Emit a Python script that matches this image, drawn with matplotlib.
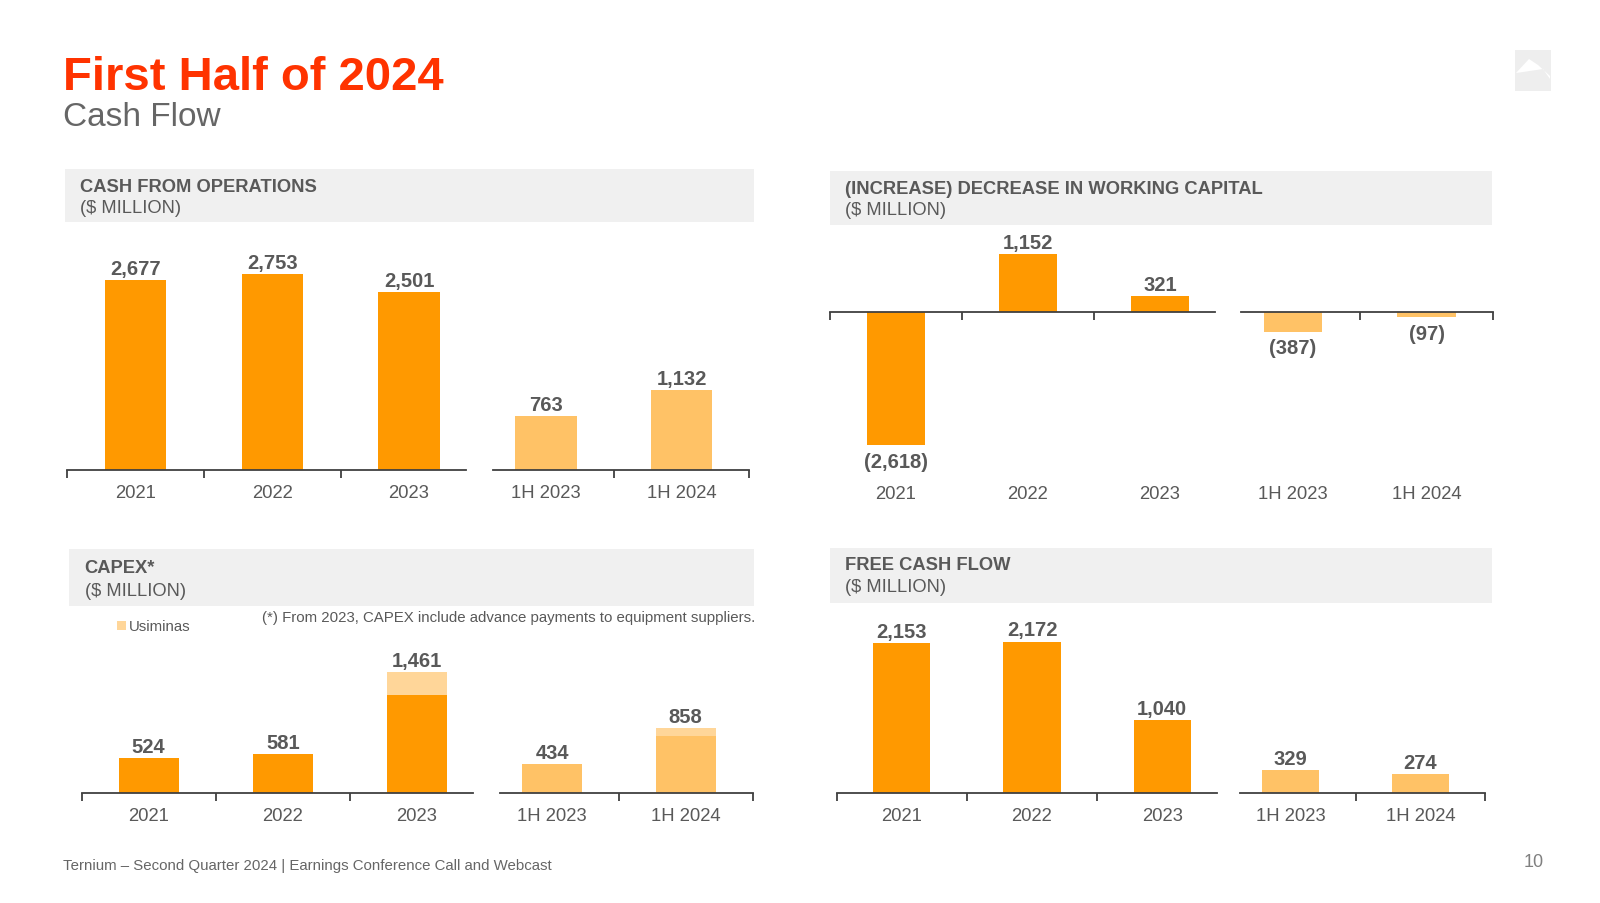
import matplotlib
matplotlib.use('Agg')
import matplotlib.pyplot as plt
from matplotlib.patches import Rectangle, Polygon
import matplotlib.transforms as mtrans

plt.rcParams['font.family'] = ['Liberation Sans', 'DejaVu Sans']

W, H = 1600, 904

# ---------------- data ----------------
years = ['2021', '2022', '2023']
halves = ['1H 2023', '1H 2024']

cfo_years = [2677, 2753, 2501]
cfo_halves = [763, 1132]

wc_years = [-2618, 1152, 321]
wc_halves = [-387, -97]

capex_years = [524, 581, 1461]
capex_halves = [434, 858]
usiminas_years = [0, 0, 345]
usiminas_halves = [0, 110]

fcf_years = [2153, 2172, 1040]
fcf_halves = [329, 274]

# ---------------- style ----------------
C_DARK = '#FF9900'
C_LIGHT = '#FFC266'
C_USI = '#FFD699'
C_TEXT = '#595959'
C_AXIS = '#404040'
C_BOX = '#F0F0F0'

fig = plt.figure(figsize=(16, 9.04), dpi=100)
fig.patch.set_facecolor('white')


def fx(x):
    return x / W


def fy(y):
    return 1 - y / H


def header(x0, x1, y0, y1, title, tx, ty1, ty2):
    fig.add_artist(Rectangle((fx(x0), fy(y1)), (x1 - x0) / W, (y1 - y0) / H,
                             transform=fig.transFigure, facecolor=C_BOX,
                             edgecolor='none', zorder=0))
    fig.text(fx(tx), fy(ty1), title, fontsize=13.2, fontweight='bold',
             color=C_TEXT, ha='left', va='center')
    fig.text(fx(tx), fy(ty2), '($ MILLION)', fontsize=13.2,
             color=C_TEXT, ha='left', va='center')


def make_axes(x_left, x_right, xlim, ybase, scale, ymin, ymax, ticks):
    ax = fig.add_axes([fx(x_left), fy(ybase - ymin * scale),
                       (x_right - x_left) / W, (ymax - ymin) * scale / H])
    ax.set_xlim(*xlim)
    ax.set_ylim(ymin, ymax)
    ax.patch.set_visible(False)
    for s in ['top', 'right', 'left']:
        ax.spines[s].set_visible(False)
    ax.spines['bottom'].set_position(('data', 0))
    ax.spines['bottom'].set_color(C_AXIS)
    ax.spines['bottom'].set_linewidth(1.3)
    ax.spines['bottom'].set_zorder(5)
    ax.set_yticks([])
    ax.set_xticks(ticks)
    ax.tick_params(axis='x', direction='out', length=6, width=1.3,
                   color=C_AXIS, labelbottom=False)
    return ax


def draw_group(ax, labels, main, color, label_y, extra=None, extra_color=None,
               width=0.45, neg_off=16):
    xs = list(range(len(main)))
    ax.bar(xs, main, width=width, color=color, zorder=2)
    tops = list(main)
    if extra is not None:
        ax.bar(xs, extra, bottom=main, width=width, color=extra_color, zorder=2)
        tops = [m + e for m, e in zip(main, extra)]
    for i, (v, t) in enumerate(zip(main, tops)):
        if v >= 0:
            ax.annotate(f'{v:,}', (i, t), xytext=(0, 4.5), textcoords='offset points',
                        ha='center', va='baseline', fontsize=14.5,
                        fontweight='bold', color=C_TEXT, annotation_clip=False)
        else:
            ax.annotate(f'({abs(v):,})', (i, v), xytext=(0, -neg_off * 0.72),
                        textcoords='offset points', ha='center', va='center',
                        fontsize=14.5, fontweight='bold', color=C_TEXT,
                        annotation_clip=False)
    tr = mtrans.blended_transform_factory(ax.transData, fig.transFigure)
    for i, lab in enumerate(labels):
        ax.text(i, fy(label_y), lab, transform=tr, ha='center', va='center',
                fontsize=13.3, color=C_TEXT)


def panel(ann_left, ann_sp, half_c0, half_sp, ybase, scale, ymin, ymax,
          label_y, y_vals, h_vals, y_extra=None, h_extra=None, width=0.45):
    ax1 = make_axes(ann_left, ann_left + 2.92 * ann_sp, (-0.5, 2.42), ybase,
                    scale, ymin, ymax, [-0.5, 0.5, 1.5])
    draw_group(ax1, years, y_vals, C_DARK, label_y, y_extra, C_USI, width)
    ax2 = make_axes(half_c0 - 0.39 * half_sp, half_c0 + 1.5 * half_sp,
                    (-0.39, 1.5), ybase, scale, ymin, ymax, [0.5, 1.5])
    draw_group(ax2, halves, h_vals, C_LIGHT, label_y, h_extra, C_USI, width)
    return ax1, ax2


# ---------------- titles ----------------
fig.text(fx(63), fy(89.5), 'First Half of 2024', fontsize=34, fontweight='bold',
         color='#FF3300', ha='left', va='baseline')
fig.text(fx(63), fy(126.5), 'Cash Flow', fontsize=24, color='#666666',
         ha='left', va='baseline')

# logo placeholder
fig.add_artist(Rectangle((fx(1515), fy(92)), 36 / W, 41 / H,
                         transform=fig.transFigure, facecolor='#EEEEEE',
                         edgecolor='none'))
logo_pts = [(1516, 74), (1529, 60), (1538, 66), (1550, 77), (1550, 80),
            (1543, 70), (1523, 73)]
fig.add_artist(Polygon([(fx(x), fy(y)) for x, y in logo_pts], closed=True,
                       transform=fig.transFigure, facecolor='white',
                       edgecolor='none'))

# ---------------- panels ----------------
header(65, 754, 169.5, 223, 'CASH FROM OPERATIONS', 79.6, 187.2, 208.6)
panel(67.3, 136.7, 546, 135.6, 471.4, 0.0712, 0, 3300, 493.9,
      cfo_years, cfo_halves)

header(829.6, 1491.8, 171.5, 225.5, '(INCREASE) DECREASE IN WORKING CAPITAL',
       845, 189.2, 210.6)
panel(829.6, 132.1, 1292.9, 133.6, 313.3, 0.0507, -3400, 1700, 494.9,
      wc_years, wc_halves, width=0.44)

header(69.4, 754.1, 550, 607, 'CAPEX*', 84.7, 568.5, 591)
panel(81.6, 134.2, 552, 133.7, 794, 0.067, 0, 2200, 816.3,
      capex_years, capex_halves, usiminas_years, usiminas_halves)

header(829.6, 1491.8, 549, 604, 'FREE CASH FLOW', 845, 565.5, 588)
panel(836.7, 130.2, 1290.8, 129.6, 793.9, 0.0697, 0, 2700, 816.3,
      fcf_years, fcf_halves, width=0.44)

# CAPEX legend and note
fig.add_artist(Rectangle((fx(117.3), fy(630.5)), 8.2 / W, 8.2 / H,
                         transform=fig.transFigure, facecolor=C_USI,
                         edgecolor='none'))
fig.text(fx(128.5), fy(627.5), 'Usiminas', fontsize=10.8, color=C_TEXT,
         ha='left', va='center')
fig.text(fx(262), fy(618),
         '(*) From 2023, CAPEX include advance payments to equipment suppliers.',
         fontsize=10.85, color=C_TEXT, ha='left', va='center')

# footer
fig.text(fx(63), fy(866.5), 'Ternium \u2013 Second Quarter 2024 | Earnings Conference Call and Webcast',
         fontsize=10.8, color='#666666', ha='left', va='center')
fig.text(fx(1534), fy(863), '10', fontsize=13, color='#808080',
         ha='center', va='center')

fig.savefig('out.png', dpi=100)
